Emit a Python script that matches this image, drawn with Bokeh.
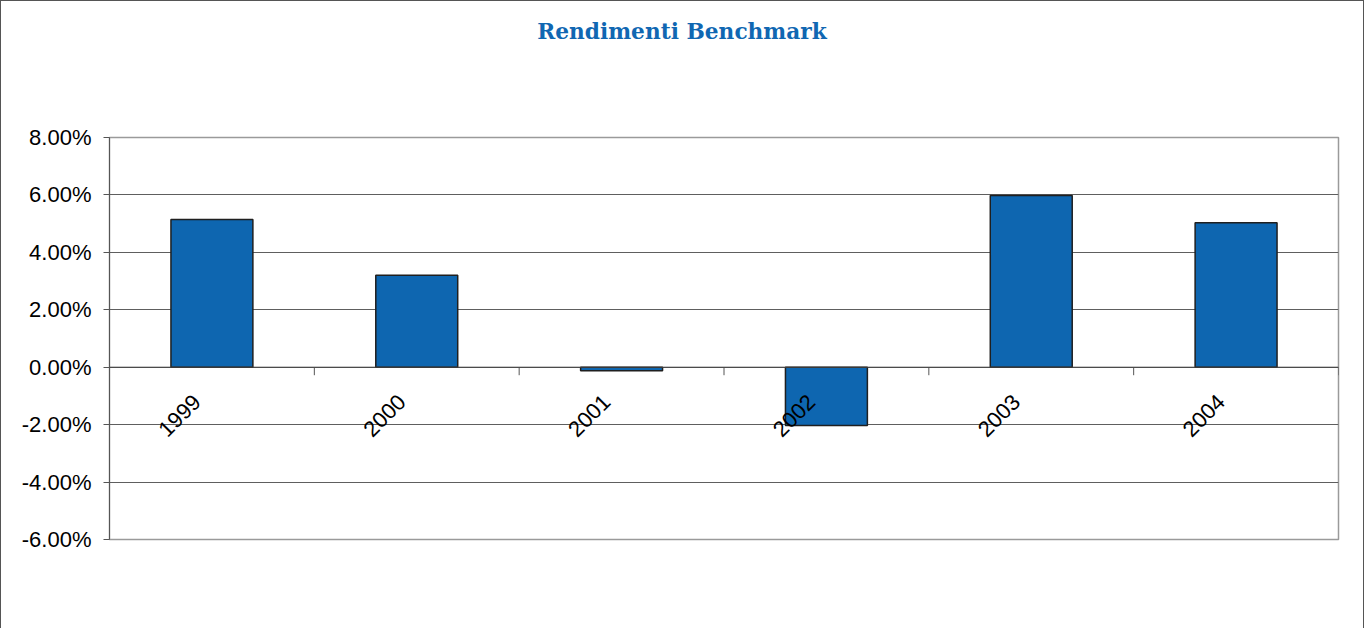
import math
from bokeh.plotting import figure
from bokeh.layouts import column
from bokeh.models import Range1d, NumeralTickFormatter, FixedTicker, Span, ColumnDataSource, Div
from bokeh.core.properties import value
from bokeh.embed import file_html
from bokeh.resources import INLINE

years = ["1999", "2000", "2001", "2002", "2003", "2004"]
returns = [0.0514, 0.0320, -0.0012, -0.0203, 0.0598, 0.0503]
y_ticks = [-0.06, -0.04, -0.02, 0.0, 0.02, 0.04, 0.06, 0.08]
title_text = "Rendimenti Benchmark"

n = len(years)
centers = [i + 0.5 for i in range(n)]
boundaries = [i + 1 for i in range(n)]

title_div = Div(text=title_text, width=1362, height=100, margin=0,
                styles={"text-align": "center", "font-family": "DejaVu Serif",
                        "font-weight": "bold", "font-size": "21.7px", "color": "#1067B2",
                        "padding-top": "18px", "box-sizing": "border-box",
                        "line-height": "25px"})

p = figure(width=1362, height=527, output_backend="svg", toolbar_location=None,
           x_range=Range1d(0, n), y_range=Range1d(min(y_ticks), max(y_ticks)),
           min_border_left=108, min_border_right=25, min_border_top=36, min_border_bottom=89)

p.xaxis.visible = False
p.xgrid.visible = False

yax = p.yaxis[0]
yax.ticker = FixedTicker(ticks=y_ticks)
yax.formatter = NumeralTickFormatter(format="0.00%")
yax.major_label_text_font = "Liberation Sans"
yax.major_label_text_font_size = "22px"
yax.major_label_text_color = "#000000"
yax.major_tick_out = 6
yax.major_tick_in = 0
yax.minor_tick_out = 0
yax.minor_tick_in = 0
yax.major_label_standoff = 12
yax.axis_line_color = "#555555"
yax.major_tick_line_color = "#555555"

p.ygrid.ticker = FixedTicker(ticks=y_ticks)
p.ygrid.grid_line_color = "#5e5e5e"
p.ygrid.grid_line_width = 1

p.outline_line_color = "#9a9a9a"
p.outline_line_width = 1.5

src = ColumnDataSource(dict(x=centers, top=returns, label=years, zero=[0.0] * n))
p.vbar(x="x", top="top", bottom=0, width=0.4, source=src,
       fill_color="#0E66B0", line_color="#1f1f1f", line_width=1.5)

p.add_layout(Span(location=0, dimension="width", line_color="#444444", line_width=1))

p.ray(x=boundaries, y=[0.0] * n, length=8, angle=-math.pi / 2, length_units="screen",
      line_color="#555555", line_width=1)

p.text(x="x", y="zero", text="label", source=src, angle=math.pi / 4,
       text_align="right", text_baseline="alphabetic", x_offset=-15, y_offset=31,
       text_font=value("Liberation Sans"), text_font_size="22px", text_color="#000000")

layout = column(title_div, p, spacing=0,
                styles={"border-left": "1.5px solid #555", "border-top": "1.5px solid #555",
                        "border-right": "1.5px solid #555"})

open("out.html", "w").write(file_html(layout, INLINE))
